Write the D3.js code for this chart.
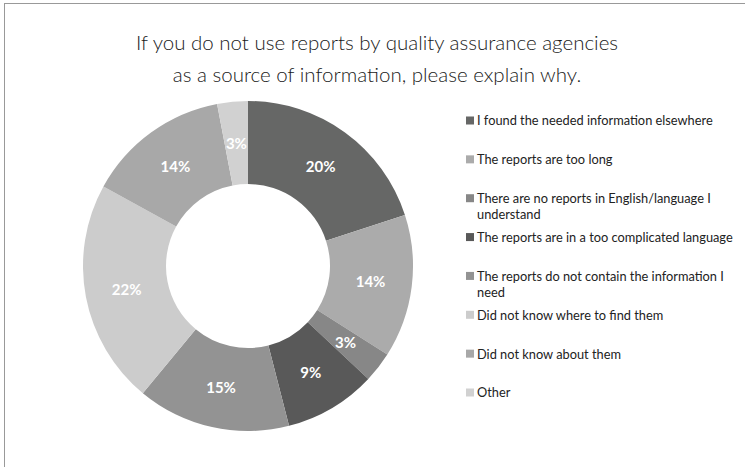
<!DOCTYPE html>
<html>
<head>
<meta charset="utf-8">
<script src="https://cdn.jsdelivr.net/npm/d3@7"></script>
<style>
  html, body { margin: 0; padding: 0; background: #fff; }
  svg { display: block; }
</style>
</head>
<body>
<svg id="chart" width="745" height="467"></svg>
<script>
// Survey answers: reasons for not using quality assurance agency reports
const categories = [
  "I found the needed information elsewhere",
  "The reports are too long",
  "There are no reports in English/language I understand",
  "The reports are in a too complicated language",
  "The reports do not contain the information I need",
  "Did not know where to find them",
  "Did not know about them",
  "Other"
];
const values = [20, 14, 3, 9, 15, 22, 14, 3];
const colors = ["#666766", "#ababab", "#878787", "#595959", "#939393", "#cccccc", "#a8a8a8", "#d1d1d1"];
const titleLines = [
  "If you do not use reports by quality assurance agencies",
  "as a source of information, please explain why."
];

const svg = d3.select("#chart");
const W = 745, H = 467;

// frame lines (top and left)
svg.append("line").attr("x1", 4).attr("x2", W).attr("y1", 3.5).attr("y2", 3.5)
  .attr("stroke", "#999").attr("stroke-width", 1);
svg.append("line").attr("x1", 4.5).attr("x2", 4.5).attr("y1", 3).attr("y2", H)
  .attr("stroke", "#999").attr("stroke-width", 1);

// title
svg.append("g").selectAll("text").data(titleLines).join("text")
  .attr("x", 377)
  .attr("y", (d, i) => 50 + i * 32)
  .attr("text-anchor", "middle")
  .attr("font-family", "Lato, 'Open Sans', sans-serif")
  .attr("font-weight", 300)
  .attr("font-size", 20.5)
  .attr("fill", "#1a1a1a")
  .text(d => d);

// donut
const cx = 248, cy = 266, rOuter = 165, rInner = 82;
const pie = d3.pie().sort(null).value(d => d.value);
const arcs = pie(categories.map((c, i) => ({ name: c, value: values[i], color: colors[i] })));
const arc = d3.arc().innerRadius(rInner).outerRadius(rOuter);
const labelArc = d3.arc().innerRadius(rInner).outerRadius(rOuter);

const g = svg.append("g").attr("transform", `translate(${cx},${cy})`);
g.selectAll("path").data(arcs).join("path")
  .attr("d", arc)
  .attr("fill", d => d.data.color);

g.selectAll("text").data(arcs).join("text")
  .attr("transform", d => `translate(${labelArc.centroid(d)})`)
  .attr("text-anchor", "middle")
  .attr("dominant-baseline", "central")
  .attr("font-family", "Lato, 'Open Sans', sans-serif")
  .attr("font-weight", 700)
  .attr("font-size", 15)
  .attr("fill", "#fff")
  .text(d => d.data.value + "%");

// legend
const legend = svg.append("g").attr("transform", "translate(466,0)");
const rowY = d3.scaleLinear().domain([0, 7]).range([121, 393]);
const maxW = 264;

const items = legend.selectAll("g").data(categories).join("g")
  .attr("transform", (d, i) => `translate(0,${rowY(i)})`);

items.append("rect")
  .attr("x", 0).attr("y", -4.5).attr("width", 8).attr("height", 8)
  .attr("fill", (d, i) => colors[i]);

items.each(function (d) {
  const t = d3.select(this).append("text")
    .attr("x", 11)
    .attr("font-family", "Lato, 'Open Sans', sans-serif")
    .attr("font-size", 12.8)
    .attr("fill", "#222");
  const words = d.split(" ");
  let line = [];
  let tspan = t.append("tspan").attr("x", 11).attr("dy", "0.35em");
  for (const w of words) {
    line.push(w);
    tspan.text(line.join(" "));
    if (tspan.node().getComputedTextLength() > maxW && line.length > 1) {
      line.pop();
      tspan.text(line.join(" "));
      line = [w];
      tspan = t.append("tspan").attr("x", 11).attr("dy", 16).text(w);
    }
  }
});
</script>
</body>
</html>
